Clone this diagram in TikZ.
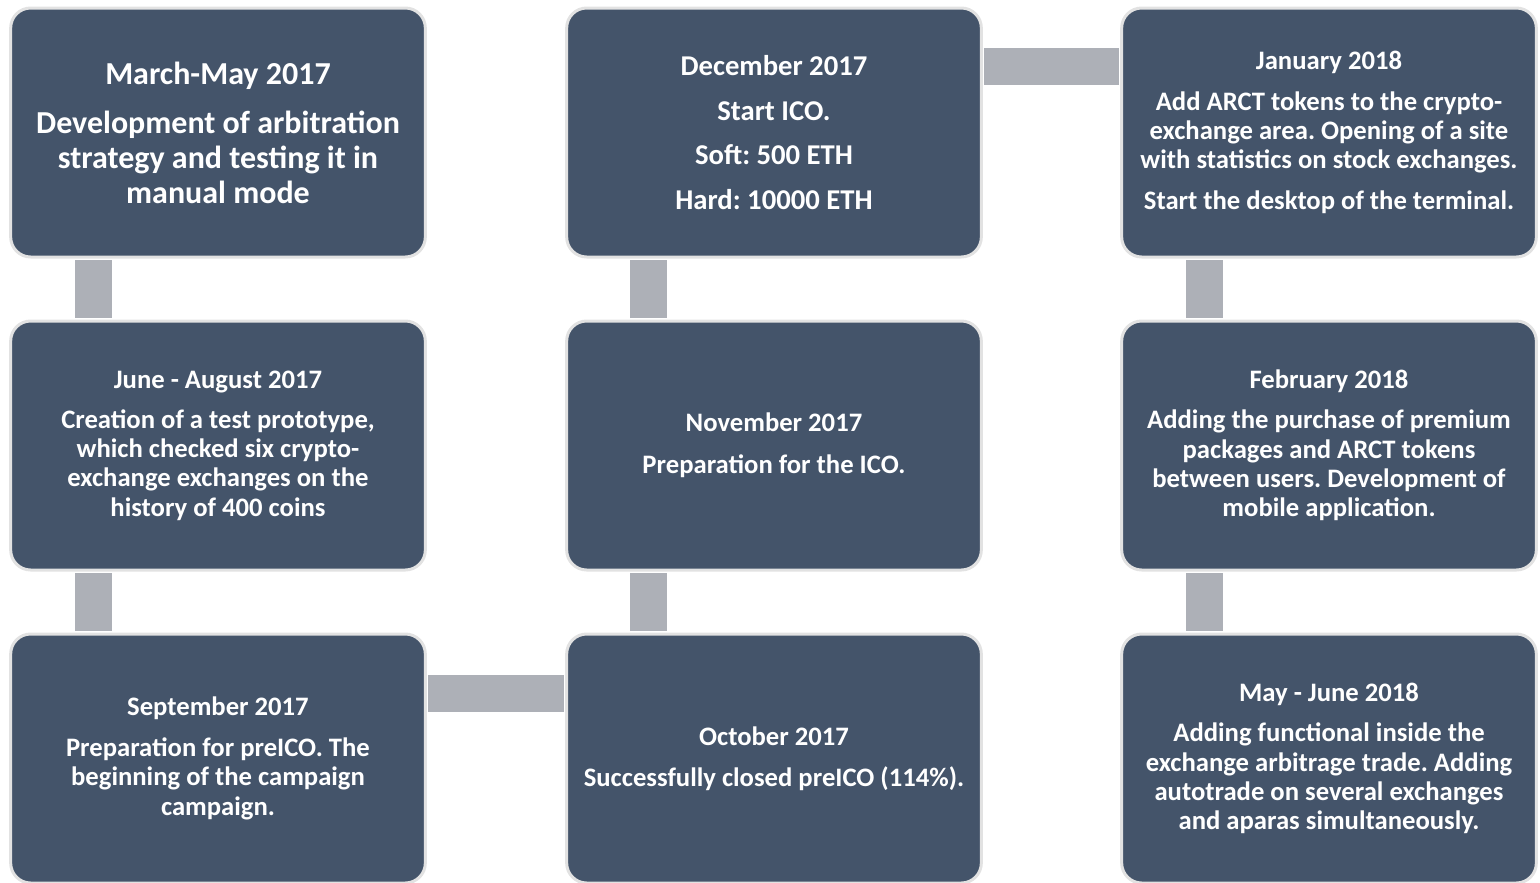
\documentclass[tikz,border=0pt]{standalone}
\usepackage{fontspec}
\setmainfont{Carlito}
\usetikzlibrary{calc}
\frenchspacing

\definecolor{boxfill}{RGB}{68,84,106}
\definecolor{linkgray}{RGB}{173,176,183}
\definecolor{rimgray}{RGB}{226,226,226}

\tikzset{every picture/.style={line width=0.75pt}}
\tikzset{
  stage/.style={draw=rimgray, line width=2.25pt, fill=boxfill, rounded corners=15pt,
    minimum width=311pt, minimum height=186.75pt, inner sep=0pt, align=center,
    text=white, font=\bfseries\fontsize{20}{22}\selectfont},
  link/.style={draw=linkgray, line width=27.75pt}
}

\begin{document}
\begin{tikzpicture}[x=0.75pt,y=0.75pt,yscale=-1,xscale=1]
\useasboundingbox (0,0) rectangle (1540,882);

% Stages, first column
\node[stage, font=\bfseries\fontsize{24}{26.25}\selectfont] (mar) at (218,132.5) {March-May 2017\\[10.5pt] Development of arbitration\\ strategy and testing it in\\ manual mode};
\node[stage] (jun) at (218,445.5) {June - August 2017\\[8pt] Creation of a test prototype,\\ which checked six crypto-\\ exchange exchanges on the\\ history of 400 coins};
\node[stage] (sep) at (218,758.5) {September 2017\\[8.5pt] Preparation for preICO. The\\ beginning of the campaign\\ campaign.};
% Stages, second column
\node[stage] (oct) at (774,758.5) {October 2017\\[8.5pt] Successfully closed preICO (114\%).};
\node[stage] (nov) at (774,445.5) {November 2017\\[9.5pt] Preparation for the ICO.};
\node[stage, font=\bfseries\fontsize{21.5}{24}\selectfont] (dec) at (774,132.5) {December 2017\\[9.4pt] Start ICO.\\[9.4pt] Soft: 500 ETH\\[9.4pt] Hard: 10000 ETH};
% Stages, third column
\node[stage] (jan) at (1329,132.5) {January 2018\\[8.5pt] Add ARCT tokens to the crypto-\\ exchange area. Opening of a site\\ with statistics on stock exchanges.\\[8.5pt] Start the desktop of the terminal.};
\node[stage] (feb) at (1329,445.5) {February 2018\\[8pt] Adding the purchase of premium\\ packages and ARCT tokens\\ between users. Development of\\ mobile application.};
\node[stage] (may) at (1329,758.5) {May - June 2018\\[8.5pt] Adding functional inside the\\ exchange arbitrage trade. Adding\\ autotrade on several exchanges\\ and aparas simultaneously.};

% Links
\draw[link] ($(mar.south west)+(84,1.5)$) -- ($(jun.north west)+(84,-1.5)$);
\draw[link] ($(jun.south west)+(84,1.5)$) -- ($(sep.north west)+(84,-1.5)$);
\draw[link] ($(sep.north east)+(1.5,61)$) -- ($(oct.north west)+(-1.5,61)$);
\draw[link] ($(oct.north west)+(83,-1.5)$) -- ($(nov.south west)+(83,1.5)$);
\draw[link] ($(nov.north west)+(83,-1.5)$) -- ($(dec.south west)+(83,1.5)$);
\draw[link] ($(dec.north east)+(1.5,60)$) -- ($(jan.north west)+(-1.5,60)$);
\draw[link] ($(jan.south west)+(84,1.5)$) -- ($(feb.north west)+(84,-1.5)$);
\draw[link] ($(feb.south west)+(84,1.5)$) -- ($(may.north west)+(84,-1.5)$);

\end{tikzpicture}
\end{document}
